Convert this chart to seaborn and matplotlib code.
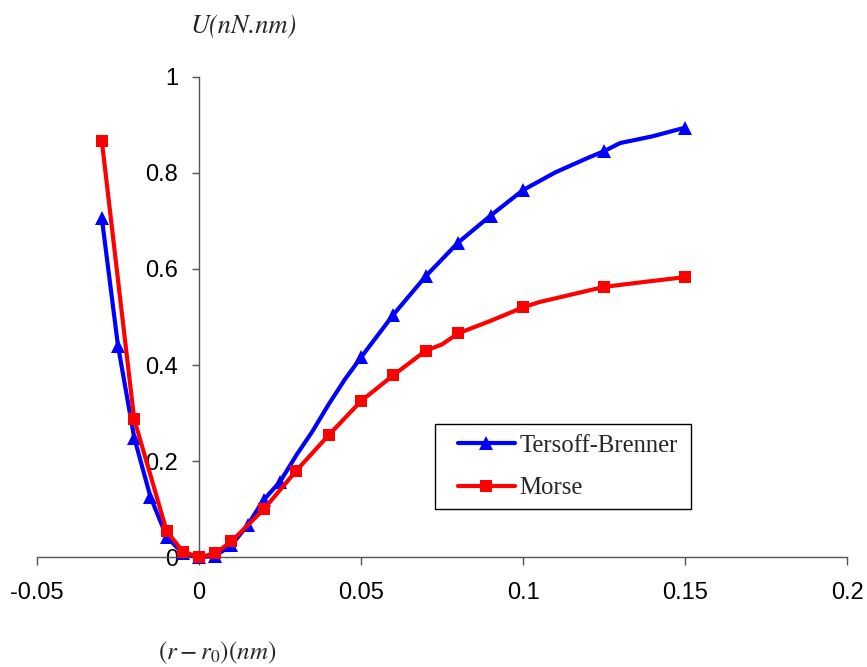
import matplotlib
matplotlib.use("Agg")
import matplotlib.pyplot as plt
import seaborn as sns
import pandas as pd
from matplotlib.patches import Rectangle

# Potential energy vs. bond stretch for two interatomic potentials
tb_x = [-0.03, -0.025, -0.02, -0.015, -0.01, -0.005, 0.0, 0.005, 0.01, 0.015,
        0.02, 0.025, 0.03, 0.035, 0.04, 0.045, 0.05, 0.06, 0.07, 0.08,
        0.09, 0.1, 0.11, 0.12, 0.125, 0.13, 0.14, 0.15]
tb_u = [0.706, 0.44, 0.249, 0.126, 0.043, 0.008, 0.0, 0.003, 0.025, 0.067,
        0.12, 0.157, 0.212, 0.262, 0.318, 0.37, 0.416, 0.505, 0.585, 0.655,
        0.711, 0.764, 0.801, 0.831, 0.845, 0.862, 0.876, 0.894]
tb_marked = [0, 1, 2, 3, 4, 5, 6, 7, 8, 9, 10, 11,
             16, 17, 18, 19, 20, 21, 24, 27]

mo_x = [-0.03, -0.02, -0.01, -0.005, 0.0, 0.005, 0.01, 0.02, 0.03, 0.04,
        0.05, 0.06, 0.07, 0.075, 0.08, 0.09, 0.1, 0.105, 0.125, 0.1375, 0.15]
mo_u = [0.867, 0.2875, 0.055, 0.012, 0.0, 0.008, 0.033, 0.1, 0.18, 0.254,
        0.325, 0.379, 0.43, 0.443, 0.466, 0.492, 0.52, 0.531, 0.5626, 0.573, 0.583]
mo_marked = [0, 1, 2, 3, 4, 5, 6, 7, 8, 9, 10, 11, 12, 14, 16, 18, 20]

series_names = ["Tersoff-Brenner", "Morse"]
x_ticks = [-0.05, 0.0, 0.05, 0.1, 0.15, 0.2]
x_tick_labels = ["-0.05", "0", "0.05", "0.1", "0.15", "0.2"]
y_ticks = [0.0, 0.2, 0.4, 0.6, 0.8, 1.0]
y_tick_labels = ["0", "0.2", "0.4", "0.6", "0.8", "1"]

sns.set_style("white")
plt.rcParams["font.family"] = ["Liberation Sans", "DejaVu Sans"]
plt.rcParams["mathtext.fontset"] = "stix"

W, H = 867, 667
fig = plt.figure(figsize=(W / 100, H / 100), dpi=100)
ax = fig.add_axes([37 / W, 1 - 557.3 / H, (847 - 37) / W, (557.3 - 76.7) / H])

tb = pd.DataFrame({"x": tb_x, "u": tb_u})
mo = pd.DataFrame({"x": mo_x, "u": mo_u})

sns.lineplot(data=tb, x="x", y="u", ax=ax, color="#0000FF", linewidth=3.0,
             marker="^", markersize=10.5, markeredgewidth=0, markevery=tb_marked,
             estimator=None, errorbar=None, sort=False, label=series_names[0],
             clip_on=False, zorder=3)
sns.lineplot(data=mo, x="x", y="u", ax=ax, color="#FF0000", linewidth=3.0,
             marker="s", markersize=8.2, markeredgewidth=0, markevery=mo_marked,
             estimator=None, errorbar=None, sort=False, label=series_names[1],
             clip_on=False, zorder=4)

ax.set_xlim(-0.05, 0.2)
ax.set_ylim(0, 1)
ax.set_xticks(x_ticks)
ax.set_xticklabels(x_tick_labels)
ax.set_yticks(y_ticks)
ax.set_yticklabels(y_tick_labels)
ax.set_xlabel("")
ax.set_ylabel("")

# Axes cross at the origin
ax.spines["left"].set_position(("data", 0))
ax.spines["top"].set_visible(False)
ax.spines["right"].set_visible(False)
for s in ("left", "bottom"):
    ax.spines[s].set_color("#555555")
    ax.spines[s].set_linewidth(1.0)
    ax.spines[s].set_zorder(1)

ax.tick_params(axis="x", direction="out", length=6, width=1, color="#555555",
               pad=12, labelsize=17, labelcolor="black", bottom=True)
ax.tick_params(axis="y", direction="out", length=5, width=1, color="#555555",
               pad=10, labelsize=17, labelcolor="black", left=True)
ax.grid(False)

# Legend entries without their own frame; a plain box is drawn around them
leg = ax.legend(loc="center left", bbox_to_anchor=(458 / W, 1 - 467 / H),
                bbox_transform=fig.transFigure, frameon=False, borderaxespad=0,
                prop={"family": "Liberation Serif", "size": 17.8},
                handlelength=2.3, handletextpad=0.17, borderpad=0,
                labelspacing=0.8)
leg.set_zorder(7)
box = Rectangle((435 / W, 1 - 509 / H), (691 - 435) / W, (509 - 424) / H,
                transform=fig.transFigure, facecolor="white", edgecolor="black",
                linewidth=1.0, zorder=6, clip_on=False)
ax.add_patch(box)

fig.text(217 / W, 1 - 659 / H, r"$(r - r_0)(nm)$", fontsize=18,
         ha="center", va="baseline")
fig.text(243 / W, 1 - 33 / H, "U(nN.nm)", fontsize=19, family="STIXGeneral",
         style="italic", ha="center", va="baseline")

fig.savefig("out.png", dpi=100, facecolor="white")
